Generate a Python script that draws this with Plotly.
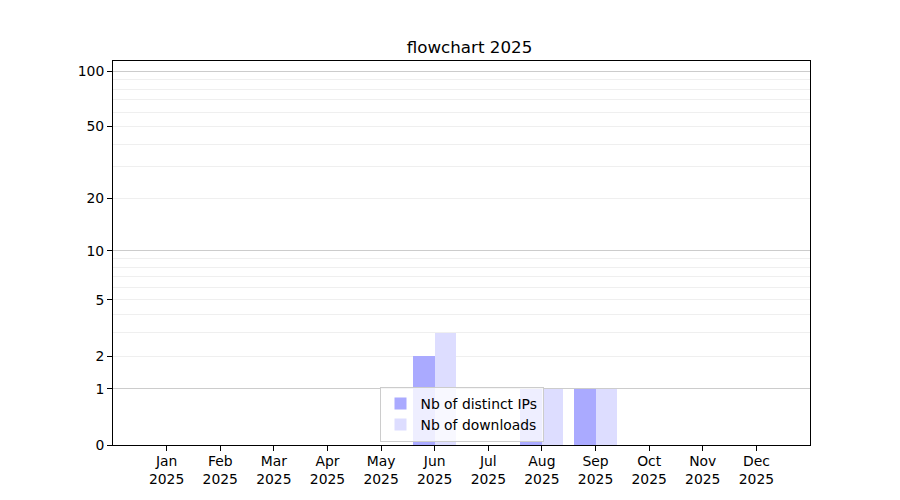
import math
import plotly.graph_objects as go

months = ["Jan", "Feb", "Mar", "Apr", "May", "Jun", "Jul", "Aug", "Sep", "Oct", "Nov", "Dec"]
year = "2025"
distinct_ips = [0, 0, 0, 0, 0, 2, 0, 1, 1, 0, 0, 0]
downloads = [0, 0, 0, 0, 0, 3, 0, 1, 1, 0, 0, 0]

# y axis is log10(1 + v): plot on a log axis with bars starting at 1
y_ticks = [0, 1, 2, 5, 10, 20, 50, 100]
y_minor = [2, 3, 4, 5, 6, 7, 8, 9, 20, 30, 40, 50, 60, 70, 80, 90]
y_major_grid = [1, 10, 100]
y_top = 113.5

x = list(range(len(months)))
font = "DejaVu Sans"
yrange = [0, math.log10(1 + y_top)]

fig = go.Figure()
fig.add_trace(go.Bar(x=x, y=distinct_ips, base=1, name="Nb of distinct IPs",
                     marker=dict(color="#aaaaff", line=dict(width=0)),
                     offset=-0.4, width=0.4))
fig.add_trace(go.Bar(x=x, y=downloads, base=1, name="Nb of downloads",
                     marker=dict(color="#ddddff", line=dict(width=0)),
                     offset=0.0, width=0.4))
# invisible trace to activate the overlay axis (darker grid at 1, 10, 100)
fig.add_trace(go.Scatter(x=[0], y=[1], yaxis="y2", mode="markers",
                         marker=dict(opacity=0), showlegend=False, hoverinfo="skip"))

fig.update_layout(
    width=900, height=500,
    margin=dict(l=105, r=98, t=53, b=63),
    paper_bgcolor="white", plot_bgcolor="white",
    barmode="overlay", bargap=0,
    font=dict(family=font, size=13.9, color="black"),
    title=dict(text="flowchart 2025", x=0.5128, xanchor="center", y=0.922, yanchor="middle",
               font=dict(size=16.7, family=font)),
    showlegend=True,
    legend=dict(x=0.5, xanchor="center", y=0.008, yanchor="bottom",
                bgcolor="rgba(255,255,255,0.8)", bordercolor="#cccccc", borderwidth=1,
                font=dict(size=13.9, family=font), tracegroupgap=0, itemwidth=30),
    xaxis=dict(range=[-1, 12], tickvals=x,
               ticktext=[f"{m}<br>{year}" for m in months],
               showgrid=False, zeroline=False, showline=True, linecolor="black", linewidth=1,
               mirror=True, ticks="outside", ticklen=5, tickcolor="black",
               ticklabelstandoff=-2),
    yaxis=dict(type="log", range=yrange,
               tickvals=[v + 1 for v in y_ticks], ticktext=[str(v) for v in y_ticks],
               showgrid=False, zeroline=False, showline=True, linecolor="black", linewidth=1,
               mirror=True, ticks="outside", ticklen=5, tickcolor="black",
               minor=dict(tickvals=[v + 1 for v in y_minor], showgrid=True,
                          gridcolor="#efefef", gridwidth=1, ticks="")),
    yaxis2=dict(type="log", range=yrange, overlaying="y",
                tickvals=[v + 1 for v in y_major_grid], showticklabels=False,
                showgrid=True, gridcolor="#cccccc", gridwidth=1, ticks="",
                zeroline=False, showline=False),
)

fig.write_html("out.html")
